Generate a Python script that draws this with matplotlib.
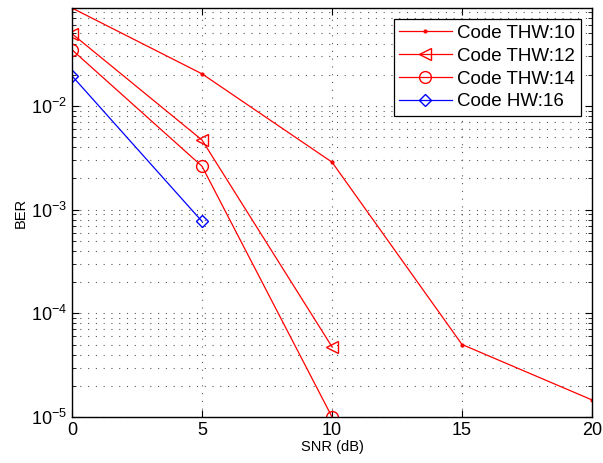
import matplotlib
matplotlib.use("Agg")
import matplotlib.pyplot as plt
from matplotlib.ticker import LogLocator, FixedLocator

plt.rcParams['font.family'] = ['Liberation Sans', 'DejaVu Sans']

snr = [0, 5, 10, 15, 20]

# BER values
ber_thw10 = [0.088, 0.0204, 0.00287, 5.0e-5, 1.46e-5]
ber_thw12 = [0.0497, 0.00469, 4.75e-5]
ber_thw14 = [0.0348, 0.00262, 1.0e-5]
ber_hw16 = [0.0195, 0.00077]

labels = ['Code THW:10', 'Code THW:12', 'Code THW:14', 'Code HW:16']

fig = plt.figure(figsize=(6.03, 4.63), dpi=100)
ax = fig.add_axes([0.1194, 0.0994, 0.8624, 0.8833])

ax.semilogy(snr, ber_thw10, 'r.-', lw=0.9, ms=4, label=labels[0])
ax.semilogy(snr[:3], ber_thw12, 'r<-', lw=0.9, ms=8.5, mfc='none', label=labels[1])
ax.semilogy(snr[:3], ber_thw14, 'ro-', lw=0.9, ms=8.5, mfc='none', label=labels[2])
ax.semilogy(snr[:2], ber_hw16, 'bD-', lw=0.9, ms=6, mfc='none', label=labels[3])

ax.set_xlim(0, 20)
ax.set_ylim(1e-5, 0.088)
ax.xaxis.set_major_locator(FixedLocator(snr))
ax.yaxis.set_major_locator(LogLocator(base=10, numticks=10))
ax.yaxis.set_minor_locator(LogLocator(base=10, subs=range(2, 10), numticks=20))

ax.grid(True, which='major', axis='both', color='0.35', ls=(0, (1, 6)), lw=0.8)
ax.grid(True, which='minor', axis='y', color='0.35', ls=(0, (1, 6)), lw=0.8)

ax.tick_params(which='both', direction='in', top=True, right=True, labelsize=13)
ax.tick_params(which='major', length=5)
ax.tick_params(which='minor', length=3)
for s in ax.spines.values():
    s.set_linewidth(1.0)

ax.set_xlabel('SNR (dB)', fontsize=10.5, labelpad=1)
ax.set_ylabel('BER', fontsize=10.5, labelpad=2)

leg = ax.legend(loc='upper right', fontsize=13.5, fancybox=False, framealpha=1,
                edgecolor='k', borderaxespad=0.6, handlelength=2.8,
                borderpad=0.3, labelspacing=0.3, handletextpad=0.3)
leg.get_frame().set_linewidth(0.9)

fig.savefig('out.png', dpi=100)
